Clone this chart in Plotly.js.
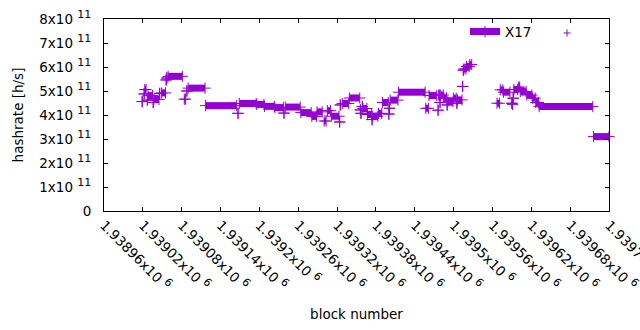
<!DOCTYPE html>
<html>
<head>
<meta charset="utf-8">
<script src="https://cdn.plot.ly/plotly-3.0.1.min.js"></script>
<style>html,body{margin:0;padding:0;background:#ffffff;}</style>
</head>
<body>
<div id="chart" style="width:640px;height:330px;"></div>
<script>
// ---- data ----
const seriesName = 'X17';
// runs of consecutive blocks that share the same estimated hashrate
const runStart = [
  1939019, 1939022, 1939023, 1939027, 1939028, 1939036, 1939037, 1939046, 1939049, 1939056,
  1939057, 1939059, 1939084, 1939088, 1939090, 1939117, 1939167, 1939169, 1939196, 1939208,
  1939224, 1939238, 1939240, 1939264, 1939281, 1939289, 1939300, 1939305, 1939311, 1939324,
  1939325, 1939328, 1939339, 1939356, 1939357, 1939359, 1939360, 1939367, 1939374, 1939375,
  1939384, 1939390, 1939400, 1939401, 1939402, 1939415, 1939457, 1939462, 1939476, 1939477,
  1939479, 1939480, 1939485, 1939490, 1939491, 1939500, 1939505, 1939506, 1939514, 1939515,
  1939516, 1939520, 1939525, 1939567, 1939572, 1939577, 1939590, 1939591, 1939592, 1939593,
  1939600, 1939603, 1939613, 1939622, 1939627, 1939632, 1939716
];
const runEnd = [
  1939019, 1939022, 1939025, 1939027, 1939035, 1939036, 1939045, 1939046, 1939055, 1939056,
  1939057, 1939081, 1939086, 1939088, 1939116, 1939165, 1939167, 1939195, 1939207, 1939223,
  1939237, 1939238, 1939263, 1939280, 1939288, 1939297, 1939303, 1939310, 1939323, 1939324,
  1939325, 1939338, 1939355, 1939356, 1939357, 1939359, 1939366, 1939373, 1939374, 1939383,
  1939389, 1939399, 1939400, 1939401, 1939414, 1939456, 1939461, 1939474, 1939476, 1939478,
  1939479, 1939484, 1939489, 1939490, 1939499, 1939504, 1939505, 1939513, 1939514, 1939515,
  1939519, 1939524, 1939528, 1939571, 1939576, 1939587, 1939590, 1939591, 1939592, 1939599,
  1939602, 1939612, 1939621, 1939626, 1939631, 1939715, 1939740
];
const runHashrate = [
  4.56e11, 4.88e11, 5.06e11, 4.62e11, 4.81e11, 4.52e11, 4.65e11, 4.90e11, 4.92e11, 5.46e11,
  5.54e11, 5.61e11, 4.66e11, 5.00e11, 5.12e11, 4.39e11, 4.07e11, 4.48e11, 4.44e11, 4.36e11,
  4.31e11, 4.08e11, 4.33e11, 4.10e11, 3.94e11, 4.13e11, 3.75e11, 4.18e11, 3.95e11, 3.71e11,
  4.42e11, 4.48e11, 4.71e11, 4.21e11, 4.07e11, 4.35e11, 4.27e11, 4.02e11, 3.81e11, 3.95e11,
  4.07e11, 4.52e11, 4.04e11, 4.28e11, 4.62e11, 4.95e11, 4.28e11, 4.81e11, 4.20e11, 4.83e11,
  4.52e11, 4.83e11, 4.71e11, 4.42e11, 4.55e11, 4.70e11, 4.49e11, 4.63e11, 5.19e11, 5.87e11,
  5.92e11, 6.02e11, 6.10e11, 4.49e11, 5.05e11, 4.95e11, 4.49e11, 4.45e11, 4.70e11, 5.06e11,
  5.16e11, 4.98e11, 4.83e11, 4.70e11, 4.52e11, 4.35e11, 3.10e11
];
const xTickVals = [1938960, 1939020, 1939080, 1939140, 1939200, 1939260, 1939320,
                   1939380, 1939440, 1939500, 1939560, 1939620, 1939680, 1939740];
const xTickMantissa = ['1.93896', '1.93902', '1.93908', '1.93914', '1.9392', '1.93926', '1.93932',
                       '1.93938', '1.93944', '1.9395', '1.93956', '1.93962', '1.93968', '1.93974'];
const xTickExponent = '6';
const yTickVals = [0, 1e11, 2e11, 3e11, 4e11, 5e11, 6e11, 7e11, 8e11];
const yTickMantissa = ['0', '1', '2', '3', '4', '5', '6', '7', '8'];
const yTickExponent = '11';

const SUP = e => ' <sup><span style="font-size:11px">' + e + '</span></sup>';
const xTickText = xTickMantissa.map(m => m + 'x10' + SUP(xTickExponent));
const yTickText = yTickMantissa.map(m => m === '0' ? '0' : m + 'x10' + SUP(yTickExponent));

// ---- build trace arrays from the runs ----
const xs = [], ys = [];
for (let i = 0; i < runStart.length; i++) {
  xs.push(runStart[i], runEnd[i], null);
  ys.push(runHashrate[i], runHashrate[i], null);
}

const PURPLE = '#9400d3';
const FONT = 'DejaVu Sans, sans-serif';
const FS = 13.5;

// plot box in pixels (for legend decoration placement)
const L = 104, R = 31, T = 19, B = 119, W = 640, H = 330;
const pw = W - L - R, ph = H - T - B;
const px = v => (v - L) / pw;
const py = v => (H - B - v) / ph;

const trace = {
  type: 'scatter',
  mode: 'lines+markers',
  name: seriesName,
  x: xs, y: ys,
  connectgaps: false,
  cliponaxis: false,
  line: {color: PURPLE, width: 7},
  marker: {symbol: 'cross-thin', size: 8, color: PURPLE, line: {color: PURPLE, width: 1}}
};

const axisCommon = {
  showline: true, linecolor: '#000', linewidth: 1, mirror: 'ticks',
  ticks: 'inside', ticklen: 4, tickwidth: 1, tickcolor: '#000',
  showgrid: false, zeroline: false, tickmode: 'array',
  ticklabeloverflow: 'allow',
  tickfont: {family: FONT, size: FS, color: '#000'}
};

const layout = {
  width: W, height: H, autosize: false,
  margin: {l: L, r: R, t: T, b: B, pad: 0},
  paper_bgcolor: '#fff', plot_bgcolor: '#fff',
  font: {family: FONT, size: FS, color: '#000'},
  showlegend: true,
  legend: {x: px(465), y: 1.014, xanchor: 'left', yanchor: 'top',
           bgcolor: 'rgba(0,0,0,0)', borderwidth: 0,
           font: {family: FONT, size: FS, color: '#000'}},
  xaxis: Object.assign({}, axisCommon, {
    range: [1938960, 1939740],
    tickvals: xTickVals, ticktext: xTickText, tickangle: 45,
    title: {text: 'block number', font: {family: FONT, size: FS, color: '#000'}, standoff: 16}
  }),
  yaxis: Object.assign({}, axisCommon, {
    range: [0, 8e11],
    tickvals: yTickVals, ticktext: yTickText, ticklabelstandoff: 9,
    title: {text: 'hashrate [h/s]', font: {family: FONT, size: FS, color: '#000'}, standoff: 12}
  }),
  shapes: [
    {type: 'line', xref: 'paper', yref: 'paper', x0: px(563.5), x1: px(570.5), y0: py(33), y1: py(33),
     line: {color: PURPLE, width: 1}},
    {type: 'line', xref: 'paper', yref: 'paper', x0: px(567), x1: px(567), y0: py(29.5), y1: py(36.5),
     line: {color: PURPLE, width: 1}}
  ]
};

Plotly.newPlot('chart', [trace], layout, {displayModeBar: false, staticPlot: true});
</script>
</body>
</html>
